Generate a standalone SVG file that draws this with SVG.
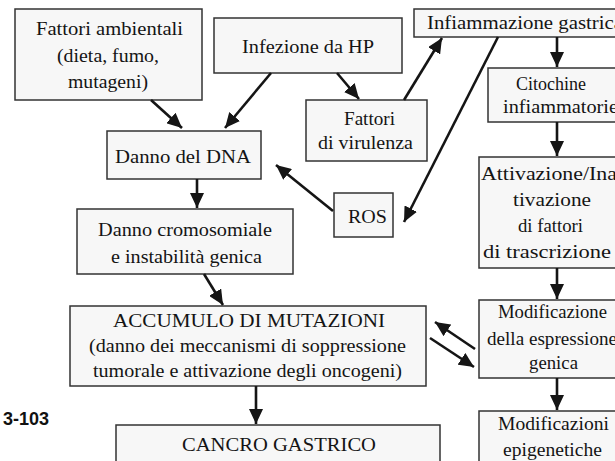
<svg xmlns="http://www.w3.org/2000/svg" width="615" height="461" viewBox="0 0 615 461">
  <style>
    .box { fill: #f7f7f7; stroke: #333; stroke-width: 1.5; }
    .t { font-family: 'Liberation Serif', 'Times New Roman', serif; font-size: 18.5px; fill: #141414; }
    .edge { stroke: #151515; stroke-width: 2.6; fill: none; }
  </style>
  <defs>
    <marker id="arrow" markerUnits="userSpaceOnUse" markerWidth="16" markerHeight="14" refX="15" refY="7" orient="auto">
      <path d="M0,0 L15,7 L0,14 Z" fill="#151515"/>
    </marker>
  </defs>
  <rect width="615" height="461" fill="#ffffff"/>

  <text x="49" y="425" text-anchor="end" font-family="Liberation Sans, Arial, sans-serif" font-size="18" font-weight="bold" fill="#111">3-103</text>

  <g id="fattori-ambientali">
    <rect class="box" x="15" y="9" width="187" height="91"/>
    <text class="t" x="36" y="35" textLength="147" lengthAdjust="spacingAndGlyphs">Fattori ambientali</text>
    <text class="t" x="57" y="62" textLength="102" lengthAdjust="spacingAndGlyphs">(dieta, fumo,</text>
    <text class="t" x="68" y="88" textLength="80" lengthAdjust="spacingAndGlyphs">mutageni)</text>
  </g>

  <g id="infezione-hp">
    <rect class="box" x="214" y="18" width="188" height="55"/>
    <text class="t" x="242" y="53" textLength="132" lengthAdjust="spacingAndGlyphs">Infezione da HP</text>
  </g>

  <g id="infiammazione">
    <rect class="box" x="414" y="9" width="220" height="28"/>
    <text class="t" x="427" y="29" textLength="196" lengthAdjust="spacingAndGlyphs">Infiammazione gastrica</text>
  </g>

  <g id="fattori-virulenza">
    <rect class="box" x="306" y="100" width="121" height="61"/>
    <text class="t" x="344" y="125" textLength="51" lengthAdjust="spacingAndGlyphs">Fattori</text>
    <text class="t" x="318" y="149" textLength="95" lengthAdjust="spacingAndGlyphs">di virulenza</text>
  </g>

  <g id="citochine">
    <rect class="box" x="488" y="68" width="140" height="54"/>
    <text class="t" x="516" y="90" textLength="70" lengthAdjust="spacingAndGlyphs">Citochine</text>
    <text class="t" x="503" y="113" textLength="115" lengthAdjust="spacingAndGlyphs">infiammatorie</text>
  </g>

  <g id="danno-dna">
    <rect class="box" x="107" y="131" width="154" height="48"/>
    <text class="t" x="115" y="163" textLength="136" lengthAdjust="spacingAndGlyphs">Danno del DNA</text>
  </g>

  <g id="ros">
    <rect class="box" x="334" y="193" width="59" height="44"/>
    <text class="t" x="348" y="223" textLength="39" lengthAdjust="spacingAndGlyphs">ROS</text>
  </g>

  <g id="danno-cromosomiale">
    <rect class="box" x="77" y="209" width="216" height="65"/>
    <text class="t" x="98" y="236" textLength="174" lengthAdjust="spacingAndGlyphs">Danno cromosomiale</text>
    <text class="t" x="111" y="263" textLength="151" lengthAdjust="spacingAndGlyphs">e instabilità genica</text>
  </g>

  <g id="attivazione">
    <rect class="box" x="479" y="157" width="150" height="111"/>
    <text class="t" x="481" y="180" textLength="142" lengthAdjust="spacingAndGlyphs">Attivazione/Inat</text>
    <text class="t" x="513" y="206" textLength="78" lengthAdjust="spacingAndGlyphs">tivazione</text>
    <text class="t" x="518" y="232" textLength="65" lengthAdjust="spacingAndGlyphs">di fattori</text>
    <text class="t" x="483" y="258" textLength="128" lengthAdjust="spacingAndGlyphs">di trascrizione</text>
  </g>

  <g id="accumulo">
    <rect class="box" x="70" y="306" width="356" height="80"/>
    <text class="t" x="113" y="327" textLength="272" lengthAdjust="spacingAndGlyphs">ACCUMULO DI MUTAZIONI</text>
    <text class="t" x="89" y="352" textLength="317" lengthAdjust="spacingAndGlyphs">(danno dei meccanismi di soppressione</text>
    <text class="t" x="93" y="377" textLength="309" lengthAdjust="spacingAndGlyphs">tumorale e attivazione degli oncogeni)</text>
  </g>

  <g id="modificazione-espressione">
    <rect class="box" x="479" y="300" width="150" height="78"/>
    <text class="t" x="498" y="318" textLength="109" lengthAdjust="spacingAndGlyphs">Modificazione</text>
    <text class="t" x="487" y="345" textLength="130" lengthAdjust="spacingAndGlyphs">della espressione</text>
    <text class="t" x="529" y="369" textLength="49" lengthAdjust="spacingAndGlyphs">genica</text>
  </g>

  <g id="modificazioni-epigenetiche">
    <rect class="box" x="479" y="411" width="150" height="60"/>
    <text class="t" x="498" y="430" textLength="111" lengthAdjust="spacingAndGlyphs">Modificazioni</text>
    <text class="t" x="503" y="456" textLength="99" lengthAdjust="spacingAndGlyphs">epigenetiche</text>
  </g>

  <g id="cancro">
    <rect class="box" x="116" y="425" width="324" height="50"/>
    <text class="t" x="182" y="451" textLength="194" lengthAdjust="spacingAndGlyphs">CANCRO GASTRICO</text>
  </g>

  <g id="connectors">
    <line class="edge" x1="151" y1="100" x2="182" y2="128" marker-end="url(#arrow)"/>
    <line class="edge" x1="271" y1="73" x2="225" y2="128" marker-end="url(#arrow)"/>
    <line class="edge" x1="337" y1="73" x2="359" y2="99" marker-end="url(#arrow)"/>
    <line class="edge" x1="404" y1="100" x2="442" y2="38" marker-end="url(#arrow)"/>
    <line class="edge" x1="498" y1="37" x2="404" y2="222" marker-end="url(#arrow)"/>
    <line class="edge" x1="333" y1="211" x2="276" y2="165" marker-end="url(#arrow)"/>
    <line class="edge" x1="197" y1="179" x2="197" y2="208" marker-end="url(#arrow)"/>
    <line class="edge" x1="204" y1="274" x2="223" y2="305" marker-end="url(#arrow)"/>
    <line class="edge" x1="256" y1="386" x2="256" y2="424" marker-end="url(#arrow)"/>
    <line class="edge" x1="557" y1="37" x2="557" y2="67" marker-end="url(#arrow)"/>
    <line class="edge" x1="557" y1="122" x2="557" y2="156" marker-end="url(#arrow)"/>
    <line class="edge" x1="557" y1="268" x2="557" y2="299" marker-end="url(#arrow)"/>
    <line class="edge" x1="475" y1="349" x2="435" y2="322" marker-end="url(#arrow)"/>
    <line class="edge" x1="430" y1="338" x2="474" y2="367" marker-end="url(#arrow)"/>
    <line class="edge" x1="557" y1="378" x2="557" y2="410" marker-end="url(#arrow)"/>
  </g>
</svg>
